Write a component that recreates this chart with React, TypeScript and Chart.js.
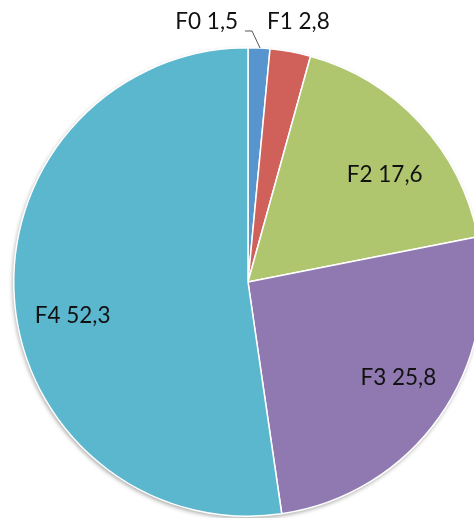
import React, { useEffect, useRef } from "react";
import { Chart, registerables } from "chart.js";

Chart.register(...registerables);

const categories = ["F0", "F1", "F2", "F3", "F4"];
const values = [1.5, 2.8, 17.6, 25.8, 52.3];
const colors = ["#5894CE", "#D0615A", "#AFC56E", "#8F79B0", "#5AB7CD"];

const FONT = "22.5px Lato, 'Open Sans', sans-serif";

const shadowPlugin = {
  id: "pieShadow",
  beforeDatasetsDraw(chart: any) {
    const meta = chart.getDatasetMeta(0);
    const arc = meta.data[0];
    if (!arc) return;
    const { x, y, outerRadius } = arc.getProps(["x", "y", "outerRadius"], true);
    const ctx = chart.ctx;
    ctx.save();
    ctx.shadowColor = "rgba(0,0,0,0.35)";
    ctx.shadowBlur = 4;
    ctx.shadowOffsetX = -1;
    ctx.shadowOffsetY = 2;
    ctx.beginPath();
    ctx.arc(x, y, outerRadius, 0, Math.PI * 2);
    ctx.fillStyle = "#ffffff";
    ctx.fill();
    ctx.restore();
  },
};

const labelPlugin = {
  id: "sliceLabels",
  afterDatasetsDraw(chart: any, _args: any, opts: any) {
    const nudges: number[][] = opts.nudges || [];
    const meta = chart.getDatasetMeta(0);
    const ctx = chart.ctx;
    ctx.save();
    ctx.font = FONT;
    ctx.fillStyle = "#111111";
    ctx.textBaseline = "alphabetic";
    const total = values.reduce((a, b) => a + b, 0);
    meta.data.forEach((arc: any, i: number) => {
      const { x, y, startAngle, endAngle, outerRadius } = arc.getProps(
        ["x", "y", "startAngle", "endAngle", "outerRadius"],
        true
      );
      const mid = (startAngle + endAngle) / 2;
      const text = `${categories[i]} ${String(values[i]).replace(".", ",")}`;
      const pct = values[i] / total;
      const [nx, ny] = nudges[i] || [0, 0];
      if (pct > 0.05) {
        const f = 0.755;
        ctx.textAlign = "center";
        ctx.fillText(
          text,
          x + Math.cos(mid) * outerRadius * f + nx,
          y + Math.sin(mid) * outerRadius * f + ny
        );
      } else if (i === 0) {
        const ax = x + Math.cos(mid) * outerRadius + 1;
        const ay = y + Math.sin(mid) * outerRadius;
        const ky = ay - 17;
        const kx = ax - 8;
        ctx.strokeStyle = "#555555";
        ctx.lineWidth = 1;
        ctx.beginPath();
        ctx.moveTo(ax, ay);
        ctx.lineTo(kx, ky);
        ctx.lineTo(kx - 7, ky);
        ctx.stroke();
        ctx.textAlign = "right";
        ctx.fillText(text, kx - 14 + nx, ky - 2 + ny);
      } else {
        const d = outerRadius + 27;
        ctx.textAlign = "center";
        ctx.fillText(text, x + Math.cos(mid) * d + nx, y + Math.sin(mid) * d + ny);
      }
    });
    ctx.restore();
  },
};

export default function App() {
  const ref = useRef<HTMLCanvasElement | null>(null);
  useEffect(() => {
    if (!ref.current) return;
    const chart = new Chart(ref.current, {
      type: "pie",
      data: {
        labels: categories,
        datasets: [
          {
            data: values,
            backgroundColor: colors,
            borderColor: "#ffffff",
            borderWidth: 1.5,
          },
        ],
      },
      options: {
        responsive: false,
        animation: false,
        layout: { padding: { left: 13, top: 47, right: 13, bottom: 13 } },
        plugins: {
          legend: { display: false },
          tooltip: { enabled: false },
          sliceLabels: {
            nudges: [
              [0, 0],
              [3, 4],
              [7, 20],
              [6, 1],
              [1, 28],
            ],
          },
        } as any,
      },
      plugins: [shadowPlugin, labelPlugin],
    });
    return () => chart.destroy();
  }, []);
  return (
    <div
      style={{
        position: "fixed",
        left: 0,
        top: 0,
        width: 474,
        height: 518,
        overflow: "hidden",
        background: "#ffffff",
      }}
    >
      <canvas
        ref={ref}
        width={496}
        height={530}
        style={{ position: "absolute", left: 0, top: 0, width: 496, height: 530 }}
      />
    </div>
  );
}
